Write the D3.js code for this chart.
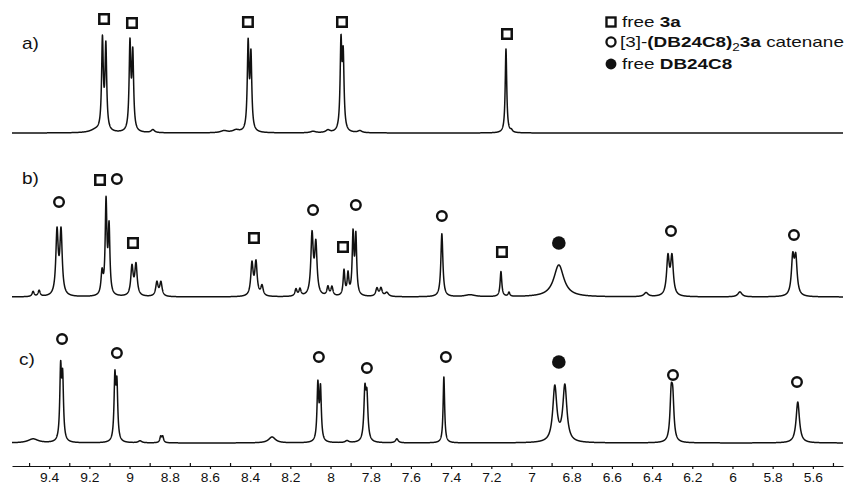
<!DOCTYPE html>
<html>
<head>
<meta charset="utf-8">
<script src="https://cdn.jsdelivr.net/npm/d3@7/dist/d3.min.js"></script>
<style>
  body { margin: 0; background: #fff; }
  svg { display: block; }
</style>
</head>
<body>
<div id="chart"></div>
<script>
// ---- data ----
// chemical shift axis (ppm)
var tickValues = [9.4, 9.2, 9.0, 8.8, 8.6, 8.4, 8.2, 8.0, 7.8, 7.6, 7.4, 7.2, 7.0, 6.8, 6.6, 6.4, 6.2, 6.0, 5.8, 5.6];
var tickLabels = ["9.4", "9.2", "9", "8.8", "8.6", "8.4", "8.2", "8", "7.8", "7.6", "7.4", "7.2", "7", "6.8", "6.6", "6.4", "6.2", "6", "5.8", "5.6"];
var minorTicks = [9.5, 9.3, 9.1, 8.9, 8.7, 8.5, 8.3, 8.1, 7.9, 7.7, 7.5, 7.3, 7.1, 6.9, 6.7, 6.5, 6.3, 6.1, 5.9, 5.7, 5.5];

// spectrum a) peaks : shift, intensity, half width
var shiftA  = [9.17, 9.135, 9.118, 8.998, 8.984, 8.884, 8.53, 8.47, 8.410, 8.396, 8.087, 8.013, 7.948, 7.937, 7.854, 7.127, 7.10];
var heightA = [2.5,  90,    84,    86,    76,    3,     2,    2.5,  86,    74,    1.5,   2.5,   86,    72,    2,     84,    2];
var widthA  = [0.03, 0.005, 0.005, 0.005, 0.005, 0.01,  0.02, 0.02, 0.005, 0.005, 0.015, 0.012, 0.005, 0.005, 0.012, 0.0045, 0.006];

// spectrum b) peaks
var shiftB  = [9.48, 9.45, 9.361, 9.341, 9.137, 9.117, 9.102, 8.988, 8.968, 8.864, 8.844, 8.391, 8.371, 8.341, 8.172, 8.152,
               8.092, 8.073, 8.013, 7.993, 7.933, 7.913, 7.888, 7.874, 7.769, 7.749, 7.72, 7.446, 7.306, 7.152, 7.112,
               6.864, 6.43, 6.321, 6.301, 5.963, 5.70, 5.685];
var heightB = [5,    6,    63,    63,    22,    92,    66,    29,    31,    14,    14,    32,    33,    10,    7,     7,
               60,    50,    9,     9,     25,    21,    60,    58,    8,     8,     4,    63,    2,     25,    4,
               32,    4,    38,    38,    5,     37,   36];
var widthB  = [0.006, 0.006, 0.007, 0.007, 0.006, 0.005, 0.005, 0.007, 0.007, 0.007, 0.007, 0.007, 0.007, 0.007, 0.006, 0.006,
               0.007, 0.007, 0.006, 0.006, 0.005, 0.005, 0.005, 0.005, 0.007, 0.007, 0.01, 0.006, 0.03, 0.005, 0.005,
               0.03,  0.012, 0.008, 0.008, 0.012, 0.008, 0.008];

// spectrum c) peaks
var shiftC  = [9.48, 9.343, 9.333, 9.073, 9.063, 8.948, 8.845, 8.835, 8.291, 8.063, 8.050, 7.918, 7.829, 7.819, 7.67,
               7.436, 6.884, 6.834, 6.305, 6.297, 5.675];
var heightC = [4,    70,    60,    62,    54,    2,     6,     6,     6,     56,    52,    2,     48,    42,    4,
               66,   55,    56,    42,    38,    41];
var widthC  = [0.03, 0.005, 0.005, 0.005, 0.005, 0.01,  0.005, 0.005, 0.02,  0.005, 0.005, 0.01,  0.006, 0.006, 0.008,
               0.0045, 0.012, 0.012, 0.007, 0.007, 0.01];

// peak assignments: shift, level above baseline, symbol
var markShiftA = [9.127, 8.988, 8.411, 7.943, 7.122];
var markLevelA = [114, 110, 111, 111, 99];
var markTypeA  = ["free3a", "free3a", "free3a", "free3a", "free3a"];

var markShiftB = [9.351, 9.147, 9.063, 8.983, 8.381, 8.087, 7.938, 7.874, 7.446, 7.147, 6.864, 6.306, 5.694];
var markLevelB = [95, 117, 118, 54, 59, 87, 50, 92, 81, 45, 54, 66, 62];
var markTypeB  = ["cat", "free3a", "cat", "free3a", "free3a", "cat", "free3a", "cat", "cat", "free3a", "freeDB", "cat", "cat"];

var markShiftC = [9.336, 9.063, 8.058, 7.819, 7.426, 6.864, 6.296, 5.679];
var markLevelC = [104, 90, 86, 75, 86, 81, 68, 61];
var markTypeC  = ["cat", "cat", "cat", "cat", "cat", "freeDB", "cat", "cat"];

var panelLabels = ["a)", "b)", "c)"];

// ---- layout ----
var width = 847, height = 487;
var svg = d3.select("#chart").append("svg")
  .attr("width", width)
  .attr("height", height)
  .style("font-family", "'Liberation Sans', Arial, sans-serif");

var x = d3.scaleLinear().domain([9.585, 5.45]).range([12, 843]);

// one y scale per trace, baseline at the bottom of each band
var baselines = [133, 297, 443];
var spectra = [
  {shift: shiftA, height: heightA, width: widthA, mShift: markShiftA, mLevel: markLevelA, mType: markTypeA},
  {shift: shiftB, height: heightB, width: widthB, mShift: markShiftB, mLevel: markLevelB, mType: markTypeB},
  {shift: shiftC, height: heightC, width: widthC, mShift: markShiftC, mLevel: markLevelC, mType: markTypeC}
];

// sample the lorentzian lines on a fine grid
var grid = d3.range(5.45, 9.5851, 0.0005);

function trace(s) {
  return grid.map(function(p) {
    var v = 0;
    for (var i = 0; i < s.shift.length; i++) {
      var d = (p - s.shift[i]) / s.width[i];
      v += s.height[i] / (1 + d * d);
    }
    return [p, v];
  });
}

spectra.forEach(function(s, k) {
  var y = d3.scaleLinear().domain([0, 100]).range([baselines[k], baselines[k] - 100]);

  svg.append("path")
    .datum(trace(s))
    .attr("fill", "none")
    .attr("stroke", "#111")
    .attr("stroke-width", 1.5)
    .attr("stroke-linejoin", "round")
    .attr("d", d3.line()
      .x(function(d) { return x(d[0]); })
      .y(function(d) { return y(d[1]); }));

  // symbols over the peaks
  s.mShift.forEach(function(m, i) {
    drawSymbol(svg, s.mType[i], x(m), y(s.mLevel[i]), 1);
  });

  svg.append("text")
    .attr("transform", "translate(" + (k == 2 ? 19 : 22) + "," + [49, 184, 365][k] + ") scale(1.12,1)")
    .attr("font-size", 17)
    .attr("fill", "#111")
    .text(panelLabels[k]);
});

function drawSymbol(g, type, cx, cy, sc) {
  if (type == "free3a") {
    var s = 9.5 * sc;
    g.append("rect")
      .attr("x", cx - s / 2).attr("y", cy - s / 2)
      .attr("width", s).attr("height", s)
      .attr("fill", "#fff").attr("stroke", "#111").attr("stroke-width", 2.5 * sc);
  } else if (type == "cat") {
    g.append("circle")
      .attr("cx", cx).attr("cy", cy).attr("r", 4.8 * sc)
      .attr("fill", "#fff").attr("stroke", "#111").attr("stroke-width", 2.4 * sc);
  } else {
    g.append("circle")
      .attr("cx", cx).attr("cy", cy).attr("r", 6.8 * sc)
      .attr("fill", "#111");
  }
}

// ---- axis ----
var axisY = 466;
var axis = svg.append("g")
  .attr("transform", "translate(0," + axisY + ")")
  .call(d3.axisBottom(x)
    .tickValues(tickValues)
    .tickSizeInner(3)
    .tickSizeOuter(0)
    .tickPadding(4)
    .tickFormat(function(d, i) { return tickLabels[i]; }));
axis.select(".domain").attr("stroke", "#111").attr("stroke-width", 1.2);
axis.selectAll(".tick line").attr("stroke", "#111").attr("stroke-width", 1.2);
axis.selectAll(".tick text")
  .attr("font-size", 12)
  .attr("transform", "scale(1.15,1)")
  .attr("font-family", "'Liberation Sans', Arial, sans-serif")
  .attr("fill", "#111");

var minor = svg.append("g")
  .attr("transform", "translate(0," + axisY + ")")
  .call(d3.axisBottom(x).tickValues(minorTicks).tickSize(-3).tickFormat(""));
minor.select(".domain").remove();
minor.selectAll(".tick line").attr("stroke", "#111").attr("stroke-width", 1.2);

// ---- legend ----
var legend = svg.append("g").attr("transform", "translate(611,0)");
var legendTypes = ["free3a", "cat", "freeDB"];
var legendY = [22, 42, 64];
legendTypes.forEach(function(t, i) {
  drawSymbol(legend, t, 0, legendY[i], t == "freeDB" ? 0.8 : 0.95);
});

var lt = legend.append("g").attr("font-size", 14).attr("fill", "#111");
var t1 = lt.append("text").attr("transform", "translate(11," + (legendY[0] + 5) + ") scale(1.35,1)");
t1.append("tspan").text("free ");
t1.append("tspan").attr("font-weight", "bold").text("3a");

var t2 = lt.append("text").attr("transform", "translate(9," + (legendY[1] + 5) + ") scale(1.35,1)");
t2.append("tspan").text("[3]-");
t2.append("tspan").attr("font-weight", "bold").text("(DB24C8)");
t2.append("tspan").attr("font-size", 10).attr("dy", 4).text("2");
t2.append("tspan").attr("font-weight", "bold").attr("dy", -4).text("3a");
t2.append("tspan").text(" catenane");

var t3 = lt.append("text").attr("transform", "translate(11," + (legendY[2] + 5) + ") scale(1.35,1)");
t3.append("tspan").text("free ");
t3.append("tspan").attr("font-weight", "bold").text("DB24C8");
</script>
</body>
</html>
